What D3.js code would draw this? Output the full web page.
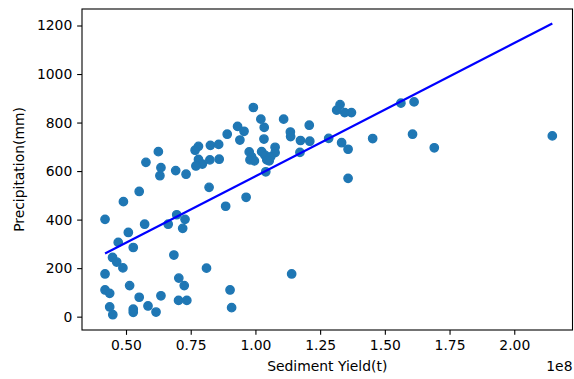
<!DOCTYPE html>
<html>
<head>
<meta charset="utf-8">
<script src="https://cdn.jsdelivr.net/npm/d3@7"></script>
<style>
  body { margin: 0; background: #fff; }
  svg { display: block; }
  text { font-family: "DejaVu Sans", sans-serif; fill: #000; }
</style>
</head>
<body>
<div id="chart"></div>
<script>

// sediment yield (t)
var sediment_yield = [
  0.419e8, 0.490e8, 0.551e8, 0.509e8, 0.470e8, 0.528e8, 0.572e8, 0.663e8, 0.696e8, 0.728e8,
  0.719e8, 0.685e8, 0.448e8, 0.464e8, 0.488e8, 0.419e8, 0.811e8, 1.140e8, 0.419e8, 0.437e8,
  0.514e8, 0.551e8, 0.635e8, 0.704e8, 0.725e8, 0.703e8, 0.735e8, 0.902e8, 0.908e8, 0.437e8,
  0.449e8, 0.528e8, 0.528e8, 0.585e8, 0.616e8, 0.885e8, 0.964e8, 0.821e8,
  0.625e8, 0.577e8, 0.635e8, 0.631e8, 0.692e8, 0.732e8,
  0.780e8, 0.767e8, 0.826e8, 0.858e8, 0.780e8, 0.795e8, 0.770e8, 0.824e8, 0.860e8,
  0.891e8, 0.931e8, 0.956e8, 0.940e8, 0.992e8, 1.021e8, 1.034e8, 1.033e8, 1.109e8, 1.135e8,
  1.136e8, 1.174e8, 1.172e8,
  0.976e8, 0.985e8, 0.979e8, 0.996e8, 1.024e8, 1.036e8, 1.044e8, 1.076e8, 1.076e8, 1.059e8,
  1.053e8, 1.040e8,
  1.208e8, 1.210e8, 1.283e8, 1.327e8, 1.314e8, 1.345e8, 1.371e8, 1.333e8, 1.358e8, 1.358e8,
  1.453e8, 1.562e8, 1.613e8, 1.607e8, 1.691e8, 2.147e8
];

// precipitation (mm), same order
var precipitation = [
  401, 474, 516, 347, 306, 285, 381, 381, 420, 401,
  364, 254, 244, 225, 201, 176, 200, 176, 110, 96,
  128, 80, 86, 159, 128, 67, 67, 110, 37, 40,
  8, 31, 18, 44, 19, 455, 492, 533,
  680, 636, 614, 581, 602, 587,
  702, 686, 706, 710, 648, 629, 621, 646, 649,
  752, 784, 764, 728, 862, 814, 780, 732, 814, 761,
  742, 726, 677,
  679, 659, 646, 642, 680, 666, 646, 698, 676, 659,
  642, 597,
  789, 723, 735, 874, 851, 841, 841, 717, 690, 570,
  734, 880, 885, 752, 696, 745
];

// fitted line: precipitation = intercept + slope * yield
var fit_intercept = 30.3;
var fit_slope = 548.6 / 1e8;

var x_ticks = [0.5e8, 0.75e8, 1.0e8, 1.25e8, 1.5e8, 1.75e8, 2.0e8];
var y_ticks = [0, 200, 400, 600, 800, 1000, 1200];

var x_label = "Sediment Yield(t)";
var y_label = "Precipitation(mm)";
var x_offset_text = "1e8";

var total_width = 574, total_height = 379;
var margin = {top: 9, right: 1.5, bottom: 49, left: 82};
var width = total_width - margin.left - margin.right;
var height = total_height - margin.top - margin.bottom;

var data = sediment_yield.map(function(d, i) {
  return {x: d, y: precipitation[i]};
});

// predicted values at the smallest and largest yield, like plt.plot(x, pred)
var x_extent = d3.extent(data, function(d) { return d.x; });
var fit_line = x_extent.map(function(v) { return {x: v, y: fit_intercept + fit_slope * v}; });

var x = d3.scaleLinear().domain([0.330e8, 2.225e8]).range([0, width]);
var y = d3.scaleLinear().domain([-55, 1268]).range([height, 0]);

var svg = d3.select("#chart").append("svg")
    .attr("width", total_width)
    .attr("height", total_height)
  .append("g")
    .attr("transform", "translate(" + margin.left + "," + margin.top + ")");

// points
svg.selectAll(".dot")
    .data(data)
  .enter().append("circle")
    .attr("class", "dot")
    .attr("cx", function(d) { return x(d.x); })
    .attr("cy", function(d) { return y(d.y); })
    .attr("r", 4.17)
    .attr("fill", "#1f77b4")
    .attr("stroke", "#1f77b4")
    .attr("stroke-width", 1.39);

// regression line
svg.append("path")
    .datum(fit_line)
    .attr("fill", "none")
    .attr("stroke", "#0000ff")
    .attr("stroke-width", 2.2)
    .attr("d", d3.line()
      .x(function(d) { return x(d.x); })
      .y(function(d) { return y(d.y); }));

// axes
var x_axis = svg.append("g")
    .attr("transform", "translate(0," + height + ")")
    .call(d3.axisBottom(x)
      .tickValues(x_ticks)
      .tickSize(4.86)
      .tickPadding(4.86)
      .tickFormat(function(d) { return d3.format(".2f")(d / 1e8); }));

var y_axis = svg.append("g")
    .call(d3.axisLeft(y)
      .tickValues(y_ticks)
      .tickSize(4.86)
      .tickPadding(4.86)
      .tickFormat(d3.format("d")));

[x_axis, y_axis].forEach(function(a) {
  a.select(".domain").remove();
  a.selectAll(".tick line").attr("stroke", "#000").attr("stroke-width", 1.1);
  a.selectAll(".tick text")
    .style("font-size", "13.9px")
    .style("font-family", "'DejaVu Sans', sans-serif")
    .attr("fill", "#000");
});

// frame
svg.append("rect")
    .attr("x", 0)
    .attr("y", 0)
    .attr("width", width)
    .attr("height", height)
    .attr("fill", "none")
    .attr("stroke", "#000")
    .attr("stroke-width", 1.1);

// labels
svg.append("text")
    .attr("x", width / 2)
    .attr("y", height + 40.5)
    .attr("text-anchor", "middle")
    .style("font-size", "13.9px")
    .text(x_label);

svg.append("text")
    .attr("x", width)
    .attr("y", height + 40.5)
    .attr("text-anchor", "end")
    .style("font-size", "13.9px")
    .text(x_offset_text);

svg.append("text")
    .attr("transform", "translate(" + (23.5 - margin.left) + "," + (height / 2) + ") rotate(-90)")
    .attr("text-anchor", "middle")
    .style("font-size", "13.9px")
    .text(y_label);

</script>
</body>
</html>
